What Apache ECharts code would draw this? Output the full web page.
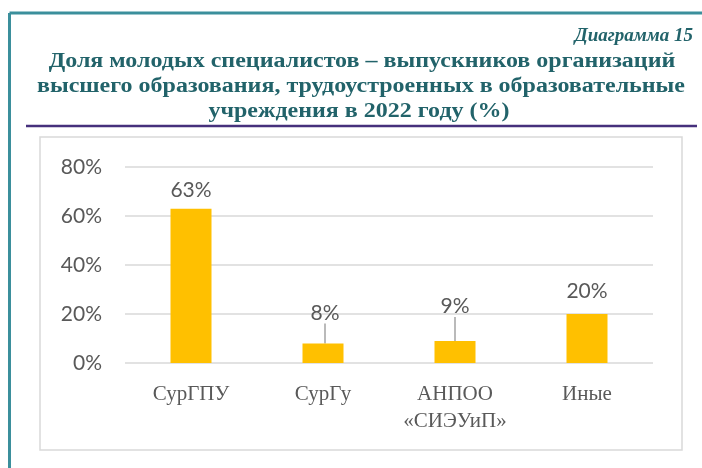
<!DOCTYPE html>
<html>
<head>
<meta charset="utf-8">
<script src="https://cdn.jsdelivr.net/npm/echarts@6/dist/echarts.min.js"></script>
<style>
html, body { margin: 0; padding: 0; background: #fff; }
#main { width: 702px; height: 468px; }
</style>
</head>
<body>
<div id="main"></div>
<script>
// данные диаграммы
var categories = ['СурГПУ', 'СурГу', 'АНПОО\n«СИЭУиП»', 'Иные'];
var values = [63, 8, 9, 20]; // %
var yTicks = [0, 20, 40, 60, 80];
var diagramNo = 'Диаграмма 15';
var titleLines = [
    'Доля молодых специалистов – выпускников организаций',
    'высшего образования, трудоустроенных в образовательные',
    'учреждения в 2022 году (%)'
];

var myChart = echarts.init(document.getElementById('main'));

var titleColor = '#22636a';
var labelGray = '#595959';
var titleFont = 'bold 20px "Liberation Serif", serif';

// сдвиг подписей вверх (у 8% и 9% - с выноской)
var labelShift = { 1: { dx: 2, dy: -12, line: true }, 2: { dx: 0, dy: -16, line: true }, 3: { dx: 0, dy: -4 } };

var option = {
    backgroundColor: '#fff',
    animation: false,
    grid: {
        left: 125,
        right: 49,
        top: 167,
        bottom: 105
    },
    xAxis: {
        type: 'category',
        data: categories,
        axisLine: { show: false },
        axisTick: { show: false },
        axisLabel: {
            interval: 0,
            margin: 18,
            color: labelGray,
            fontFamily: '"Liberation Serif", serif',
            fontSize: 21,
            lineHeight: 27
        }
    },
    yAxis: {
        type: 'value',
        min: yTicks[0],
        max: yTicks[yTicks.length - 1],
        interval: yTicks[1] - yTicks[0],
        axisLine: { show: false },
        axisTick: { show: false },
        splitLine: { lineStyle: { color: '#d9d9d9', width: 1.5 } },
        axisLabel: {
            margin: 23,
            color: labelGray,
            fontFamily: 'Lato, sans-serif',
            fontSize: 21,
            formatter: '{value}%'
        }
    },
    series: [{
        type: 'bar',
        barWidth: 41,
        itemStyle: { color: '#ffc000' },
        data: values.map(function (v, i) {
            var s = labelShift[i];
            return {
                value: v,
                labelLine: { show: !!(s && s.line), lineStyle: { color: '#8c8c8c', width: 1.2 } }
            };
        }),
        label: {
            show: true,
            position: 'top',
            distance: 8,
            color: labelGray,
            fontFamily: 'Lato, sans-serif',
            fontSize: 21,
            formatter: '{c}%'
        },
        labelLayout: function (params) {
            var s = labelShift[params.dataIndex];
            return s ? { dx: s.dx, dy: s.dy } : {};
        }
    }],
    graphic: [
        // рамка
        { type: 'line', shape: { x1: 9.5, y1: 13, x2: 702, y2: 13 }, style: { stroke: '#3b8f9c', lineWidth: 3 } },
        { type: 'line', shape: { x1: 9.5, y1: 13, x2: 9.5, y2: 468 }, style: { stroke: '#3b8f9c', lineWidth: 3 } },
        // фиолетовая линия под заголовком
        { type: 'line', shape: { x1: 26, y1: 126, x2: 697, y2: 126 }, style: { stroke: '#46307c', lineWidth: 2.5 } },
        // рамка области диаграммы
        { type: 'rect', shape: { x: 40, y: 137, width: 642, height: 313 }, style: { fill: 'none', stroke: '#d9d9d9', lineWidth: 1.5 } },
        {
            type: 'text', x: 693, y: 36,
            style: { text: diagramNo, align: 'right', verticalAlign: 'middle', fill: titleColor, font: 'italic bold 19px "Liberation Serif", serif' }
        },
        {
            type: 'text', x: 362, y: 62, scaleX: 1.2,
            style: { text: titleLines[0], align: 'center', verticalAlign: 'middle', fill: titleColor, font: titleFont }
        },
        {
            type: 'text', x: 361, y: 87, scaleX: 1.2,
            style: { text: titleLines[1], align: 'center', verticalAlign: 'middle', fill: titleColor, font: titleFont }
        },
        {
            type: 'text', x: 359, y: 112, scaleX: 1.2,
            style: { text: titleLines[2], align: 'center', verticalAlign: 'middle', fill: titleColor, font: titleFont }
        }
    ]
};

myChart.setOption(option);
</script>
</body>
</html>
